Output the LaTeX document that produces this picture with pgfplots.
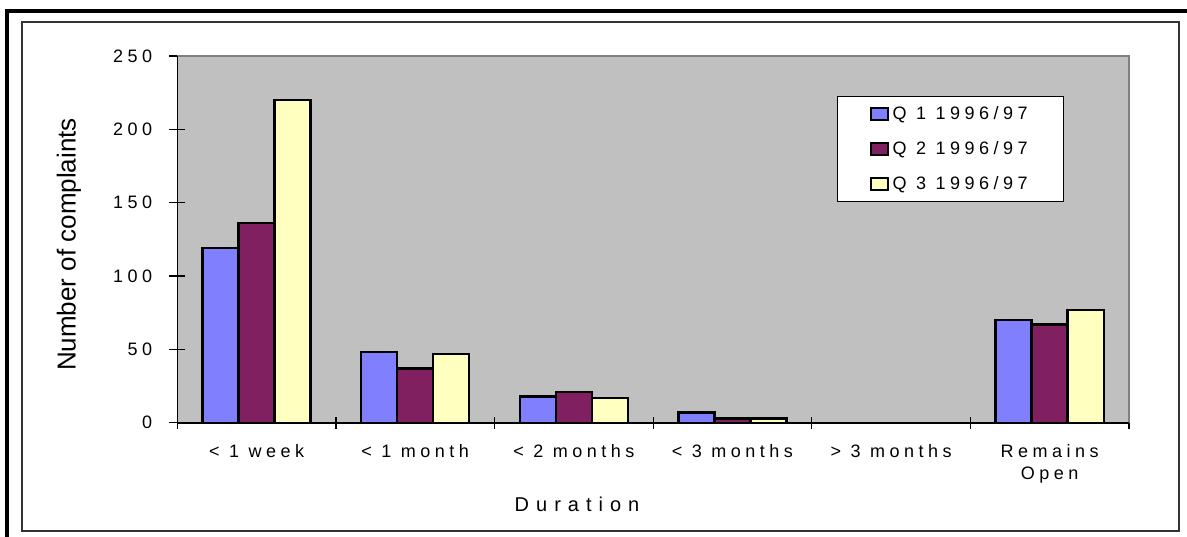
\documentclass[border=0pt]{standalone}
\usepackage{fontspec}
\setmainfont{Liberation Sans}
\newfontfamily\spaced[LetterSpace=25]{Liberation Sans}
\newfontfamily\widespaced[LetterSpace=35]{Liberation Sans}
\usepackage{pgfplots}
\pgfplotsset{compat=1.18}

\definecolor{qone}{RGB}{128,128,255}
\definecolor{qtwo}{RGB}{128,32,96}
\definecolor{qthree}{RGB}{255,255,192}
\definecolor{plotgray}{RGB}{192,192,192}
\definecolor{edgegray}{RGB}{128,128,128}

% position in pixels measured from the top-left corner of the page
\newcommand{\px}[2]{({(#1)*0.5pt},{(536-(#2))*0.5pt})}

\begin{document}
\begin{tikzpicture}
\useasboundingbox (0,0) rectangle (593.5pt,268pt);
% outer frame
\draw[line width=1.6pt] \px{7}{540} -- \px{7}{11} -- \px{1190}{11};
\draw[line width=0.6pt, black!80] \px{22}{22} rectangle \px{1179}{531};

\begin{axis}[
  at={(88.65pt,56.65pt)}, anchor=south west,
  scale only axis, width=475.85pt, height=183.35pt,
  xmin=-0.5, xmax=5.5, ymin=0, ymax=250,
  axis background/.style={fill=plotgray},
  axis line style={draw=none},
  ybar=0pt, bar width=18pt,
  xtick={0,...,5},
  xticklabels={{< 1 week},{< 1 month},{< 2 months},{< 3 months},{> 3 months},{Remains\\Open}},
  major x tick style={draw=none},
  minor xtick={-0.5,0.5,...,5.5},
  minor tick length=6pt,
  xtick pos=bottom, ytick pos=left,
  ytick={0,50,...,250},
  major tick length=8pt,
  tick align=center,
  tick style={black, line width=0.6pt},
  /pgf/number format/assume math mode=true,
  yticklabel style={font=\spaced\fontsize{9}{10}\selectfont, xshift=-5pt},
  xticklabel style={font=\spaced\fontsize{9}{11}\selectfont, align=center, anchor=north, yshift=-3.5pt},
  xlabel={Duration},
  xlabel style={font=\widespaced\fontsize{10}{12}\selectfont, at={(axis description cs:0.42,-0.224)}, anchor=center},
  ylabel={Number of complaints},
  ylabel style={font=\fontsize{13}{15}\selectfont, at={(axis description cs:-0.1138,0.486)}, anchor=center},
  legend image code/.code={\draw[#1, line width=1pt] (0pt,-3pt) rectangle (8.5pt,3pt);},
  legend style={at={(0.6932,0.891)}, anchor=north west, draw=black, line width=0.6pt, fill=white,
    font=\spaced\fontsize{9}{10}\selectfont, inner xsep=16pt, inner ysep=2.75pt, row sep=5.5pt,
    legend cell align=left},
  clip=false,
]
\addplot[draw=black, line width=1.2pt, fill=qone] coordinates {(0,119) (1,48) (2,18) (3,7) (4,0) (5,70)};
\addplot[draw=black, line width=1.2pt, fill=qtwo] coordinates {(0,136) (1,37) (2,21) (3,3) (4,0) (5,67)};
\addplot[draw=black, line width=1.2pt, fill=qthree] coordinates {(0,220) (1,47) (2,17) (3,3) (4,0) (5,77)};
\legend{Q 1 1996/97, Q 2 1996/97, Q 3 1996/97}
% plot-area edges: grey top and right, black axes at left and bottom
\draw[edgegray, line width=1pt] (rel axis cs:0,1) -- (rel axis cs:1,1) -- (rel axis cs:1,0);
\draw[black, line width=0.8pt] (rel axis cs:0,1) -- (rel axis cs:0,0) -- (rel axis cs:1,0);
\end{axis}
\end{tikzpicture}
\end{document}
